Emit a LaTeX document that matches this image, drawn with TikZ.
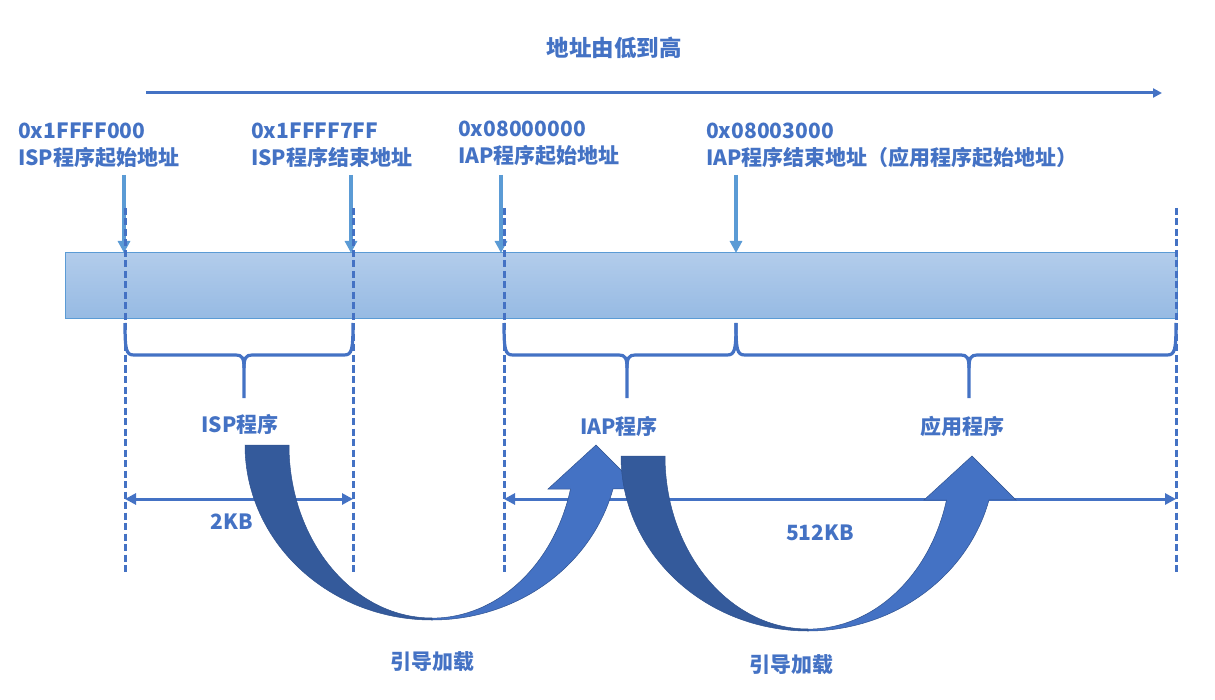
\documentclass[tikz,border=0pt]{standalone}
\usepackage{fontspec}
\setmainfont{Noto Sans CJK SC}
\usetikzlibrary{arrows.meta}
\definecolor{lineblue}{RGB}{68,114,196}
\definecolor{tickblue}{RGB}{91,155,213}
\definecolor{darkarrow}{RGB}{52,90,155}
\definecolor{edgeblue}{RGB}{47,82,143}
\definecolor{bartop}{RGB}{178,204,235}
\definecolor{barbot}{RGB}{150,186,227}
\begin{document}
\begin{tikzpicture}[x=1pt, y=-1pt,
  every node/.style={font=\bfseries\fontsize{21}{27}\selectfont, text=lineblue, inner sep=0pt},
  addr/.style={-{Triangle[width=12pt,length=12pt]}, line width=3.5pt, tickblue},
  guide/.style={lineblue, line width=3pt, dash pattern=on 7pt off 3.5pt},
  brace/.style={lineblue, line width=3.2pt},
  dim/.style={{Triangle[width=11pt,length=11pt]}-{Triangle[width=11pt,length=11pt]}, line width=3pt, lineblue},
  jumpedge/.style={draw=edgeblue, line width=0.5pt}]
\useasboundingbox (0,0) rectangle (1215,700);
% direction of addresses
\node[font=\bfseries\fontsize{22.5}{25}\selectfont] (dir) at (614,48) {地址由低到高};
\coordinate (low) at (146,93); \coordinate (high) at (1162,93);
\draw[-{Triangle[width=9pt,length=9pt]}, line width=3pt, lineblue] (low) -- (high);
% address labels
\node[anchor=west, align=left] (isps) at (18,145) {0x1FFFF000\\ISP程序起始地址};
\node[anchor=west, align=left] (ispe) at (251,145) {0x1FFFF7FF\\ISP程序结束地址};
\node[anchor=west, align=left] (iaps) at (458,143) {0x08000000\\IAP程序起始地址};
\node[anchor=west, align=left] (apps) at (706,145) {0x08003000\\IAP程序结束地址（应用程序起始地址）};
% flash bar
\node[draw=tickblue, line width=1pt, top color=bartop, bottom color=barbot, minimum width=1112pt, minimum height=66pt] (flash) at (621,286) {};
\foreach \x/\n in {124/1, 351/2, 501/3, 736/4} {
  \coordinate (t\n) at (\x,175); \coordinate (a\n) at (\x,253);
  \draw[addr] (t\n) -- (a\n);
}
\foreach \x in {125, 353, 504, 1176}
  \draw[guide] (\x,208) -- (\x,575);
% braces
\foreach \a/\m/\b in {125/244/353, 504/627/736, 736/969/1176} {
  \draw[brace] (\a,323) .. controls (\a,350) and (\a+1,355) .. (\a+9,355) -- (\m-8,355) .. controls (\m-2,355) and (\m,358) .. (\m,368) -- (\m,398);
  \draw[brace] (\b,323) .. controls (\b,350) and (\b-1,355) .. (\b-9,355) -- (\m+8,355) .. controls (\m+2,355) and (\m,358) .. (\m,368);
}
\node (isp) at (240,424) {ISP程序};
\node (iap) at (619,426) {IAP程序};
\node (app) at (962,426) {应用程序};
% sizes
\coordinate (s1) at (125,499); \coordinate (s2) at (353,499);
\coordinate (s3) at (504,499); \coordinate (s4) at (1176,499);
\draw[dim] (s1) -- (s2);
\draw[dim] (s3) -- (s4);
\node (kb2) at (232,522) {2KB};
\node (kb512) at (820,533) {512KB};
% boot jumps
\foreach \cx/\cy in {432/445, 808/456} {
  \fill[darkarrow, jumpedge] (\cx-187,\cy) arc[start angle=180, end angle=90, x radius=187, y radius=175]
    -- (\cx,\cy+173) arc[start angle=90, end angle=180, x radius=143, y radius=173] -- cycle;
  \fill[lineblue, jumpedge] (\cx,\cy+175) arc[start angle=90, end angle=14.5, x radius=187, y radius=175]
    -- (\cx+208,\cy+44) -- (\cx+164,\cy) -- (\cx+116,\cy+44) -- (\cx+138.5,\cy+44)
    arc[start angle=14.7, end angle=90, x radius=143, y radius=173] -- cycle;
}
\node (load1) at (432,662) {引导加载};
\node (load2) at (791,665) {引导加载};
\end{tikzpicture}
\end{document}
